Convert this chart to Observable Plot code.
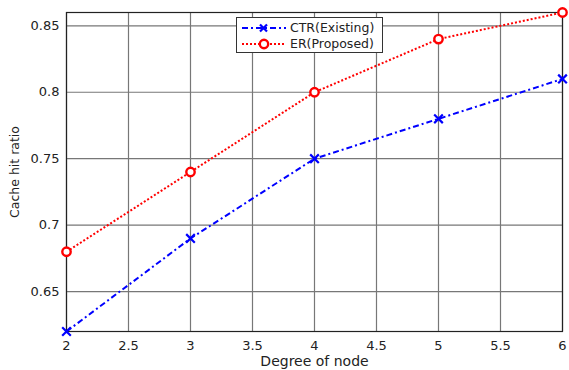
<!DOCTYPE html>
<html><head><meta charset="utf-8">
<script src="https://cdn.jsdelivr.net/npm/d3@7"></script>
<script src="https://cdn.jsdelivr.net/npm/@observablehq/plot@0.6"></script>
<style>
body{margin:0;background:#fff;font-family:"DejaVu Sans",sans-serif;}
#wrap{position:relative;width:569px;height:370px;}
#legend{position:absolute;left:236px;top:17px;width:147px;height:36px;border:1px solid #333;background:#fff;font-size:12.5px;color:#222;box-sizing:border-box;}
#legend div{position:absolute;left:2px;display:flex;align-items:center;white-space:nowrap;}
</style></head><body>
<div id="wrap"><div id="chart"></div>
<div id="legend">
<div style="top:2px"><svg width="48" height="14"><line x1="3" y1="7" x2="47" y2="7" stroke="#0000ff" stroke-width="2" stroke-dasharray="6,3,2,3"/><path d="M21,3.5L28,10.5M21,10.5L28,3.5" stroke="#0000ff" stroke-width="2.2"/></svg><span style="margin-left:3px">CTR(Existing)</span></div>
<div style="top:18px"><svg width="48" height="14"><line x1="3" y1="7" x2="47" y2="7" stroke="#ff0000" stroke-width="2" stroke-dasharray="2,2"/><circle cx="25" cy="7" r="4.2" fill="#fff" stroke="#ff0000" stroke-width="2.4"/></svg><span style="margin-left:3px">ER(Proposed)</span></div>
</div></div>
<script>
const degrees = [2, 3, 4, 5, 6];
const ctrExisting = [0.62, 0.69, 0.75, 0.78, 0.81];
const erProposed = [0.68, 0.74, 0.80, 0.84, 0.86];
const xTicks = [2, 2.5, 3, 3.5, 4, 4.5, 5, 5.5, 6];
const yTicks = [0.65, 0.7, 0.75, 0.8, 0.85];

const ctr = degrees.map((d, i) => ({x: d, y: ctrExisting[i]}));
const er = degrees.map((d, i) => ({x: d, y: erProposed[i]}));

const chart = Plot.plot({
  width: 569, height: 370,
  marginLeft: 66, marginRight: 7, marginTop: 12, marginBottom: 39,
  style: {fontFamily: '"DejaVu Sans", sans-serif', fontSize: "13px", color: "#222", background: "#fff"},
  x: {domain: [2, 6], ticks: xTicks, tickFormat: d => String(d), tickSize: 0, tickPadding: 9, label: null},
  y: {domain: [0.62, 0.86], ticks: yTicks, tickFormat: d => String(d), tickSize: 0, tickPadding: 7, label: null},
  marks: [
    Plot.ruleX(xTicks, {stroke: "#777", strokeWidth: 1.2}),
    Plot.ruleY(yTicks, {stroke: "#777", strokeWidth: 1.2}),
    Plot.frame({stroke: "#222", strokeWidth: 1.2}),
    Plot.axisX({ticks: xTicks, tickFormat: d => String(d), tickSize: 0, tickPadding: 9, label: "Degree of node", labelAnchor: "center", labelArrow: "none", labelOffset: 34, fontSize: 13}),
    Plot.axisY({ticks: yTicks, tickFormat: d => String(d), tickSize: 0, tickPadding: 7, label: "Cache hit ratio", labelAnchor: "center", labelArrow: "none", labelOffset: 56, fontSize: 13}),
    Plot.line(ctr, {x: "x", y: "y", stroke: "#0000ff", strokeWidth: 2, strokeDasharray: "6,3,2,3", strokeLinecap: "butt"}),
    Plot.dot(ctr, {x: "x", y: "y", symbol: "times", stroke: "#0000ff", strokeWidth: 2.2, r: 4}),
    Plot.line(er, {x: "x", y: "y", stroke: "#ff0000", strokeWidth: 2, strokeDasharray: "2,2", strokeLinecap: "butt"}),
    Plot.dot(er, {x: "x", y: "y", symbol: "circle", stroke: "#ff0000", fill: "#fff", strokeWidth: 2.4, r: 4.2})
  ]
});
chart.querySelectorAll("[aria-label='x-axis label'] text").forEach(t => t.style.fontSize = "14px");
chart.querySelectorAll("[aria-label='y-axis label'] text").forEach(t => t.style.fontSize = "12.5px");
document.getElementById("chart").appendChild(chart);
</script></body></html>
